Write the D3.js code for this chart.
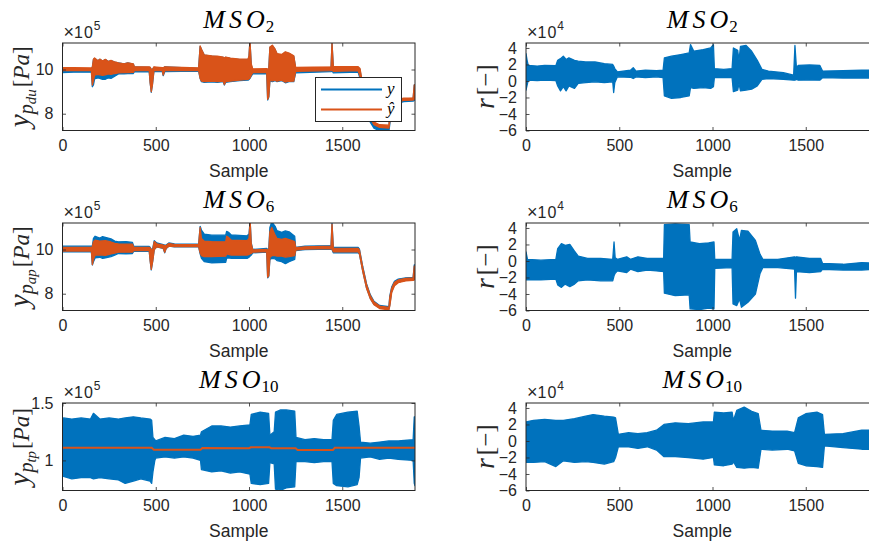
<!DOCTYPE html>
<html>
<head>
<meta charset="utf-8">
<script src="https://cdn.jsdelivr.net/npm/d3@7"></script>
<style>
  body { margin: 0; background: #fff; }
  svg { display: block; font-family: "Liberation Sans", Arial, sans-serif; }
</style>
</head>
<body>
<svg id="chart" width="869" height="542"></svg>
<script>
// ---- shared axis values ----
const sampleDomain = [0, 1890];
const sampleTicks = [0, 500, 1000, 1500];
const pressureTicks = [8, 10];          // x10^5 Pa
const pressureTicksTP = [1, 1.5];       // x10^5 Pa
const residualTicks = [-6, -4, -2, 0, 2, 4]; // x10^4
const pressureDomain = [7.24, 11.2];
const pressureDomainTP = [0.738, 1.5];
const residualDomain = [-6, 4.6];

// ---- signal envelopes: [sample, lower, upper] ----
// MSO2: measured y (x10^5 Pa)
const mso2Y = [
  [0, 9.86, 10.02], [60, 9.88, 10.03], [155, 9.88, 10.03], [160, 9.22, 10.1], [166, 9.3, 10.45],
  [172, 9.58, 10.5], [190, 9.62, 10.4], [200, 9.6, 10.46], [215, 9.55, 10.38], [230, 9.56, 10.45],
  [245, 9.62, 10.36], [260, 9.6, 10.4], [280, 9.7, 10.33], [300, 9.8, 10.3], [330, 9.8, 10.26],
  [350, 9.82, 10.3], [380, 9.82, 10.24], [385, 9.9, 10.12], [465, 9.9, 10.1], [470, 9.4, 10.1],
  [476, 8.97, 10.0], [482, 9.3, 10.0], [490, 9.9, 10.1], [535, 9.92, 10.05], [540, 9.72, 10.05],
  [548, 9.9, 10.12], [730, 9.93, 10.05], [738, 9.6, 11.05], [745, 9.45, 10.9], [760, 9.42, 10.65],
  [800, 9.44, 10.6], [830, 9.42, 10.58], [862, 9.45, 10.55], [868, 9.3, 10.5], [875, 9.42, 10.55],
  [900, 9.45, 10.5], [950, 9.5, 10.45], [995, 9.52, 10.45], [1000, 9.55, 10.6], [1005, 9.6, 11.3],
  [1012, 9.7, 10.2], [1020, 9.8, 9.98], [1095, 9.82, 10.0], [1100, 8.62, 10.0], [1106, 8.75, 10.0],
  [1112, 9.5, 11.0], [1125, 9.45, 11.08], [1140, 9.5, 10.9], [1150, 9.45, 10.7], [1175, 9.5, 10.65],
  [1195, 9.4, 10.78], [1215, 9.45, 10.72], [1240, 9.45, 10.6], [1250, 9.85, 10.05], [1440, 9.9, 10.08],
  [1445, 9.95, 11.2], [1452, 9.85, 10.1], [1585, 9.88, 10.1], [1595, 9.6, 10.0], [1610, 9.0, 9.2],
  [1630, 8.15, 8.35], [1650, 7.62, 7.8], [1670, 7.35, 7.5], [1700, 7.22, 7.38], [1750, 7.2, 7.36],
  [1756, 7.6, 8.1], [1766, 8.2, 8.4], [1785, 8.45, 8.58], [1830, 8.55, 8.66], [1880, 8.57, 8.68],
  [1886, 8.6, 9.3], [1890, 8.8, 9.3]
];
// MSO2: estimated y-hat (x10^5 Pa)
const mso2Yhat = [
  [0, 9.95, 10.08], [60, 9.96, 10.08], [155, 9.95, 10.07], [160, 9.3, 10.1], [166, 9.5, 10.47],
  [172, 9.75, 10.52], [190, 9.78, 10.4], [200, 9.76, 10.47], [215, 9.74, 10.38], [230, 9.76, 10.46],
  [245, 9.8, 10.36], [260, 9.78, 10.41], [280, 9.82, 10.34], [300, 9.85, 10.3], [330, 9.86, 10.26],
  [350, 9.86, 10.3], [380, 9.87, 10.25], [385, 9.95, 10.13], [465, 9.95, 10.12], [470, 9.4, 10.1],
  [476, 9.0, 10.0], [482, 9.3, 10.0], [490, 9.95, 10.12], [535, 9.95, 10.08], [540, 9.75, 10.08],
  [548, 9.95, 10.12], [730, 9.96, 10.07], [738, 9.6, 11.07], [745, 9.48, 10.92], [760, 9.45, 10.66],
  [800, 9.47, 10.62], [830, 9.45, 10.6], [862, 9.48, 10.56], [868, 9.32, 10.52], [875, 9.45, 10.56],
  [900, 9.48, 10.52], [950, 9.52, 10.47], [995, 9.55, 10.47], [1000, 9.58, 10.62], [1005, 9.62, 11.3],
  [1012, 9.75, 10.25], [1020, 9.86, 10.03], [1095, 9.87, 10.04], [1100, 8.65, 10.02], [1106, 8.78, 10.02],
  [1112, 9.52, 11.02], [1125, 9.48, 11.1], [1140, 9.52, 10.92], [1150, 9.47, 10.72], [1175, 9.52, 10.68],
  [1195, 9.43, 10.8], [1215, 9.47, 10.74], [1240, 9.48, 10.62], [1250, 9.92, 10.1], [1440, 9.95, 10.12],
  [1445, 9.98, 11.2], [1452, 9.92, 10.13], [1585, 9.95, 10.13], [1595, 9.7, 10.05], [1610, 9.1, 9.3],
  [1630, 8.3, 8.5], [1650, 7.8, 7.95], [1670, 7.5, 7.62], [1700, 7.38, 7.5], [1750, 7.35, 7.48],
  [1756, 7.7, 8.2], [1766, 8.28, 8.45], [1785, 8.5, 8.62], [1830, 8.6, 8.7], [1880, 8.62, 8.72],
  [1886, 8.65, 9.3], [1890, 8.85, 9.3]
];
// MSO6: measured y (x10^5 Pa)
const mso6Y = [
  [0, 9.9, 10.15], [155, 9.9, 10.15], [160, 9.3, 10.15], [166, 9.45, 10.5], [175, 9.62, 10.6],
  [200, 9.65, 10.52], [215, 9.6, 10.58], [230, 9.62, 10.55], [260, 9.68, 10.48], [280, 9.75, 10.38],
  [300, 9.82, 10.35], [340, 9.8, 10.36], [375, 9.82, 10.32], [382, 9.92, 10.15], [465, 9.92, 10.14],
  [470, 9.5, 10.1], [476, 9.08, 10.0], [484, 9.5, 10.05], [492, 10.0, 10.4], [505, 10.12, 10.3],
  [540, 10.05, 10.22], [548, 9.85, 10.2], [556, 10.05, 10.2], [570, 10.15, 10.3], [600, 10.12, 10.25],
  [730, 10.12, 10.24], [738, 9.8, 11.05], [745, 9.6, 10.88], [760, 9.45, 10.7], [800, 9.4, 10.65],
  [875, 9.42, 10.65], [880, 9.6, 10.82], [890, 9.62, 10.78], [905, 9.6, 10.66], [990, 9.6, 10.62],
  [1000, 9.65, 10.7], [1006, 9.7, 11.3], [1012, 9.75, 10.3], [1020, 9.85, 10.0], [1095, 9.88, 10.05],
  [1100, 8.72, 10.0], [1106, 8.8, 10.0], [1112, 9.55, 11.0], [1122, 9.6, 11.25], [1140, 9.58, 11.05],
  [1150, 9.5, 10.85], [1175, 9.45, 10.78], [1195, 9.36, 10.84], [1215, 9.45, 10.8], [1245, 9.55, 10.6],
  [1250, 9.95, 10.1], [1300, 10.0, 10.15], [1440, 10.02, 10.18], [1445, 10.0, 11.2], [1452, 9.85, 10.1],
  [1585, 9.85, 10.1], [1592, 9.8, 10.02], [1610, 9.02, 9.22], [1630, 8.27, 8.45], [1650, 7.8, 7.96],
  [1670, 7.52, 7.66], [1700, 7.36, 7.47], [1750, 7.3, 7.41], [1755, 7.5, 7.9], [1765, 8.1, 8.3],
  [1780, 8.4, 8.56], [1800, 8.52, 8.66], [1840, 8.6, 8.72], [1880, 8.62, 8.74], [1886, 8.65, 9.3],
  [1890, 8.9, 9.3]
];
// MSO6: estimated y-hat (x10^5 Pa)
const mso6Yhat = [
  [0, 9.93, 10.1], [155, 9.93, 10.1], [160, 9.32, 10.12], [166, 9.55, 10.35], [175, 9.75, 10.42],
  [200, 9.76, 10.38], [230, 9.74, 10.4], [260, 9.8, 10.34], [280, 9.84, 10.28], [300, 9.88, 10.25],
  [375, 9.88, 10.24], [382, 9.95, 10.1], [465, 9.95, 10.1], [470, 9.5, 10.08], [476, 9.1, 9.98],
  [484, 9.5, 10.02], [492, 10.0, 10.36], [505, 10.12, 10.26], [540, 10.06, 10.2], [548, 9.87, 10.18],
  [556, 10.06, 10.18], [570, 10.15, 10.27], [600, 10.13, 10.23], [730, 10.13, 10.22], [738, 9.85, 11.0],
  [745, 9.72, 10.5], [760, 9.68, 10.38], [800, 9.68, 10.36], [875, 9.7, 10.35], [880, 9.8, 10.6],
  [890, 9.78, 10.55], [905, 9.75, 10.42], [990, 9.75, 10.4], [1000, 9.78, 10.5], [1006, 9.8, 11.3],
  [1012, 9.82, 10.25], [1020, 9.88, 9.98], [1095, 9.9, 10.0], [1100, 8.75, 9.98], [1106, 8.82, 9.98],
  [1112, 9.65, 10.8], [1122, 9.72, 11.0], [1140, 9.72, 10.65], [1150, 9.7, 10.5], [1175, 9.7, 10.46],
  [1195, 9.66, 10.5], [1215, 9.68, 10.45], [1245, 9.72, 10.36], [1250, 9.97, 10.08], [1300, 10.02, 10.12],
  [1440, 10.04, 10.15], [1445, 10.02, 11.15], [1452, 9.9, 10.06], [1585, 9.9, 10.05], [1592, 9.8, 9.98],
  [1610, 9.0, 9.18], [1630, 8.25, 8.42], [1650, 7.78, 7.92], [1670, 7.5, 7.62], [1700, 7.33, 7.44],
  [1750, 7.27, 7.38], [1755, 7.45, 7.85], [1765, 8.05, 8.25], [1780, 8.36, 8.52], [1800, 8.5, 8.62],
  [1840, 8.58, 8.69], [1880, 8.6, 8.71], [1886, 8.62, 9.25], [1890, 8.85, 9.25]
];
// MSO10: measured y (x10^5 Pa)
const mso10Y = [
  [0, 0.9, 1.35], [5, 0.86, 1.37], [50, 0.84, 1.36], [100, 0.85, 1.37], [150, 0.85, 1.36],
  [166, 0.84, 1.41], [200, 0.85, 1.36], [250, 0.84, 1.37], [300, 0.83, 1.36], [336, 0.8, 1.37],
  [380, 0.82, 1.38], [420, 0.84, 1.37], [470, 0.82, 1.36], [478, 0.8, 1.35], [485, 0.9, 1.2],
  [495, 1.0, 1.18], [500, 1.02, 1.17], [550, 1.03, 1.2], [600, 1.02, 1.19], [650, 1.03, 1.22],
  [700, 1.02, 1.21], [740, 1.0, 1.22], [745, 0.92, 1.25], [800, 0.9, 1.3], [850, 0.91, 1.3],
  [900, 0.89, 1.29], [950, 0.9, 1.3], [1005, 0.88, 1.31], [1012, 0.8, 1.4], [1060, 0.79, 1.42],
  [1105, 0.8, 1.41], [1112, 0.98, 1.22], [1135, 0.97, 1.25], [1142, 0.75, 1.42], [1170, 0.74, 1.44],
  [1200, 0.76, 1.44], [1245, 0.77, 1.43], [1252, 0.99, 1.2], [1300, 0.99, 1.18], [1350, 0.98, 1.19],
  [1400, 0.99, 1.18], [1445, 0.99, 1.18], [1452, 0.8, 1.35], [1470, 0.78, 1.4], [1530, 0.77, 1.42],
  [1580, 0.79, 1.43], [1590, 0.85, 1.3], [1598, 1.02, 1.16], [1650, 1.03, 1.15], [1700, 1.01, 1.16],
  [1750, 1.02, 1.17], [1800, 1.01, 1.17], [1880, 1.0, 1.18], [1886, 0.8, 1.38], [1890, 0.78, 1.38]
];
// MSO10: estimated y-hat (x10^5 Pa), single trace [sample, value]
const mso10Yhat = [
  [0, 1.11], [478, 1.11], [490, 1.093], [740, 1.093], [750, 1.108], [1000, 1.106], [1010, 1.114],
  [1110, 1.114], [1120, 1.105], [1250, 1.105], [1260, 1.091], [1450, 1.091], [1460, 1.11], [1890, 1.11]
];
// residuals r (x10^4)
const mso2R = [
  [0, -1.1, 3.3], [6, -0.5, 2.5], [12, 0.1, 1.9], [60, 0.05, 1.8], [100, 0.1, 1.9], [160, 0.05, 1.85],
  [170, -0.6, 2.5], [185, -1.2, 2.7], [200, -0.7, 3.0], [215, -1.2, 2.6], [230, -0.6, 2.8],
  [260, -0.9, 2.5], [280, -0.3, 2.4], [320, -0.2, 2.3], [370, -0.1, 2.3], [420, -0.2, 2.1],
  [465, -0.1, 2.0], [470, -1.4, 1.8], [476, -0.2, 1.5], [490, 0.5, 1.1], [560, 0.45, 1.3],
  [575, 0.3, 1.6], [590, 0.5, 1.2], [640, 0.4, 1.3], [700, 0.5, 1.25], [735, 0.4, 1.3],
  [742, -1.8, 2.8], [780, -2.1, 3.0], [830, -2.0, 3.2], [875, -1.8, 3.4], [882, -0.8, 4.4],
  [900, -0.9, 3.6], [950, -0.8, 3.8], [990, -0.9, 4.0], [1005, -0.7, 4.4], [1010, 0.4, 1.5],
  [1060, 0.45, 1.4], [1105, 0.4, 1.5], [1112, -1.3, 4.0], [1135, -1.1, 3.7], [1142, -0.3, 2.5],
  [1150, -1.2, 4.2], [1180, -1.1, 4.3], [1210, -1.0, 3.6], [1240, -0.6, 2.5], [1265, 0.2, 1.4],
  [1300, 0.3, 1.2], [1380, 0.2, 1.0], [1435, 0.1, 0.7], [1442, 0.1, 4.3], [1450, 0.2, 1.6],
  [1460, 0.1, 1.9], [1520, 0.15, 1.95], [1575, 0.1, 1.9], [1590, 0.4, 1.2], [1700, 0.35, 1.25],
  [1800, 0.35, 1.3], [1890, 0.35, 1.3]
];
const mso6R = [
  [0, -2.3, 1.1], [8, -2.3, 0.2], [80, -2.3, 0.1], [160, -2.2, 0.2], [170, -2.9, 1.5],
  [190, -3.2, 2.1], [210, -2.8, 1.9], [235, -3.1, 2.0], [260, -2.8, 1.2], [280, -2.4, 0.6],
  [330, -2.3, 0.3], [400, -2.4, 0.3], [465, -2.4, 0.2], [472, -1.8, 2.3], [478, -1.5, 0.4],
  [490, -1.2, 0.2], [540, -1.4, 0.5], [560, -1.0, 0.2], [600, -1.3, 0.5], [650, -1.1, 0.3],
  [700, -1.2, 0.3], [738, -1.3, 0.3], [742, -3.9, 4.4], [800, -4.2, 4.5], [875, -4.1, 4.4],
  [880, -5.8, 2.3], [930, -5.9, 2.1], [980, -5.7, 2.2], [1008, -5.8, 2.3], [1012, -0.9, 0.2],
  [1105, -0.8, 0.2], [1110, -5.2, 3.5], [1130, -5.4, 3.9], [1145, -4.6, 2.5], [1155, -5.6, 3.7],
  [1190, -5.0, 3.6], [1230, -4.0, 2.5], [1255, -1.5, 0.8], [1270, -0.8, 0.2], [1350, -0.8, 0.2],
  [1440, -1.0, 0.5], [1445, -4.5, 0.4], [1450, -1.3, 0.5], [1520, -1.4, 0.3], [1580, -1.3, 0.3],
  [1590, -1.0, -0.3], [1700, -1.1, -0.4], [1800, -1.1, -0.2], [1890, -1.0, -0.3]
];
const mso10R = [
  [0, -2.6, 2.3], [40, -2.6, 2.5], [100, -2.5, 2.6], [160, -3.1, 2.5], [200, -2.4, 2.5],
  [260, -2.6, 2.7], [320, -2.5, 3.0], [360, -2.6, 3.2], [420, -2.8, 3.0], [470, -2.5, 2.9],
  [480, -2.0, 2.8], [495, -0.7, 0.8], [550, -0.7, 1.0], [600, -0.9, 0.9], [650, -0.7, 1.0],
  [700, -1.1, 1.3], [740, -1.9, 2.0], [800, -1.9, 2.2], [870, -2.0, 2.1], [950, -2.2, 2.3],
  [1005, -2.0, 2.3], [1010, -2.9, 3.5], [1060, -3.0, 3.4], [1105, -2.8, 3.5], [1112, -2.5, 2.5],
  [1130, -3.2, 3.7], [1170, -3.3, 4.1], [1210, -3.2, 3.6], [1245, -3.3, 3.3], [1260, -1.0, 1.3],
  [1320, -1.1, 1.2], [1400, -1.0, 1.2], [1440, -1.2, 1.0], [1460, -2.7, 2.8], [1500, -3.0, 3.3],
  [1560, -3.1, 3.5], [1590, -3.2, 3.2], [1600, -0.6, 0.8], [1700, -0.8, 0.9], [1750, -0.9, 1.1],
  [1800, -1.0, 1.3], [1890, -1.0, 1.3]
];

const titleSubs = ["2", "6", "10"];
const pressureSubs = ["du", "ap", "tp"];
const legendLabels = ["y", "ŷ"];

// ---- styling ----
const BLUE = "#0072BD", ORANGE = "#D95319", INK = "#262626";
const SERIF = "'Liberation Serif', 'Times New Roman', serif";

const svg = d3.select("#chart");
const leftX = 62.5, rightX = 526, plotW = 352.5, plotH = 87.5;
const rowTops = [43, 223, 403];

let clipId = 0;

function drawPanel(o) {
  const g = svg.append("g");
  const x = d3.scaleLinear().domain(sampleDomain).range([o.left, o.left + plotW]);
  const y = d3.scaleLinear().domain(o.yDomain).range([o.top + plotH, o.top]);

  const cid = "clip" + (clipId++);
  svg.append("clipPath").attr("id", cid).append("rect")
    .attr("x", o.left).attr("y", o.top).attr("width", plotW).attr("height", plotH);

  const data = g.append("g").attr("clip-path", `url(#${cid})`);
  const area = d3.area().x(d => x(d[0])).y0(d => y(d[1])).y1(d => y(d[2]));
  o.bands.forEach(b => {
    data.append("path").attr("d", area(b.values))
      .attr("fill", b.color).attr("stroke", b.color)
      .attr("stroke-width", 1.3).attr("stroke-linejoin", "round");
  });
  (o.lines || []).forEach(l => {
    const line = d3.line().x(d => x(d[0])).y(d => y(d[1]));
    data.append("path").attr("d", line(l.values))
      .attr("fill", "none").attr("stroke", l.color).attr("stroke-width", 2);
  });

  // axes (ticks point inward, mirrored on top/right)
  const xb = d3.axisBottom(x).tickValues(sampleTicks).tickSizeInner(-3.5).tickSizeOuter(0).tickPadding(9)
    .tickFormat(d3.format("d"));
  const xt = d3.axisTop(x).tickValues(sampleTicks).tickSizeInner(-3.5).tickSizeOuter(0).tickFormat("");
  const yl = d3.axisLeft(y).tickValues(o.yTicks).tickSizeInner(-3.5).tickSizeOuter(0).tickPadding(9)
    .tickFormat(d3.format("~g"));
  const yr = d3.axisRight(y).tickValues(o.yTicks).tickSizeInner(-3.5).tickSizeOuter(0).tickFormat("");

  const axes = [
    [xb, `translate(0,${o.top + plotH})`],
    [xt, `translate(0,${o.top})`],
    [yl, `translate(${o.left},0)`],
    [yr, `translate(${o.left + plotW},0)`]
  ];
  axes.forEach(([ax, tr]) => {
    const a = g.append("g").attr("transform", tr).call(ax);
    a.select(".domain").remove();
    a.selectAll("line").attr("stroke", INK).attr("stroke-width", 0.8);
    a.selectAll("text").attr("fill", INK).attr("font-size", 16)
      .attr("font-family", "'Liberation Sans', Arial, sans-serif");
  });
  g.append("rect").attr("x", o.left).attr("y", o.top).attr("width", plotW).attr("height", plotH)
    .attr("fill", "none").attr("stroke", INK).attr("stroke-width", 1);

  // exponent marker
  const ex = g.append("text").attr("x", o.left + 1).attr("y", o.top - 5)
    .attr("fill", INK).attr("font-size", 16);
  ex.append("tspan").attr("font-size", 18).text("×");
  ex.append("tspan").attr("letter-spacing", 1).text("10");
  ex.append("tspan").attr("font-size", 12).attr("dy", -8).text(o.exponent);

  // x label
  g.append("text").attr("x", o.left + plotW / 2).attr("y", o.top + plotH + 46.5)
    .attr("text-anchor", "middle").attr("fill", INK).attr("font-size", 17.5).text("Sample");

  // title: MSO_k
  const t = g.append("text").attr("x", o.left + plotW / 2).attr("y", o.top - 15.5)
    .attr("text-anchor", "middle").attr("fill", "#000").attr("font-family", SERIF);
  t.append("tspan").attr("font-style", "italic").attr("font-size", 26)
    .attr("letter-spacing", 4).text("MS");
  t.append("tspan").attr("font-style", "italic").attr("font-size", 26).text("O");
  t.append("tspan").attr("font-size", 17).attr("dx", 1).attr("dy", 4).text(o.titleSub);

  // y label
  const cy = o.top + plotH / 2;
  const lab = g.append("text")
    .attr("transform", `translate(${o.labelX},${cy}) rotate(-90)`)
    .attr("text-anchor", "middle").attr("fill", INK).attr("font-family", SERIF).attr("font-size", 23);
  o.ylabel(lab);
}

function pressureLabel(sub) {
  return lab => {
    lab.append("tspan").attr("font-style", "italic").attr("font-size", 29).text("y");
    lab.append("tspan").attr("font-style", "italic").attr("font-size", 20).attr("dy", 4).text("p");
    lab.append("tspan").attr("font-style", "italic").attr("font-size", 15).attr("dy", 3).text(sub);
    lab.append("tspan").attr("dy", -7).attr("dx", 2).text("[");
    lab.append("tspan").attr("font-style", "italic").text("Pa");
    lab.append("tspan").text("]");
  };
}
function residualLabel(lab) {
  lab.append("tspan").attr("font-style", "italic").attr("font-size", 28).text("r");
  lab.append("tspan").attr("dx", 3).attr("font-size", 25).text("[");
  lab.append("tspan").attr("font-size", 25).text("\u2212");
  lab.append("tspan").attr("font-size", 25).text("]");
}

const pressureData = [
  { bands: [{ values: mso2Y, color: BLUE }, { values: mso2Yhat, color: ORANGE }], domain: pressureDomain, ticks: pressureTicks },
  { bands: [{ values: mso6Y, color: BLUE }, { values: mso6Yhat, color: ORANGE }], domain: pressureDomain, ticks: pressureTicks },
  { bands: [{ values: mso10Y, color: BLUE }], lines: [{ values: mso10Yhat, color: ORANGE }], domain: pressureDomainTP, ticks: pressureTicksTP }
];
const residualData = [mso2R, mso6R, mso10R];

rowTops.forEach((top, i) => {
  const p = pressureData[i];
  drawPanel({
    left: leftX, top, yDomain: p.domain, yTicks: p.ticks, exponent: "5",
    titleSub: titleSubs[i], bands: p.bands, lines: p.lines, labelX: 29,
    ylabel: pressureLabel(pressureSubs[i])
  });
  drawPanel({
    left: rightX, top, yDomain: residualDomain, yTicks: residualTicks, exponent: "4",
    titleSub: titleSubs[i], bands: [{ values: residualData[i], color: BLUE }], labelX: 494,
    ylabel: residualLabel
  });
});

// legend in the first pressure panel
const lg = svg.append("g");
lg.append("rect").attr("x", 315.5).attr("y", 77.5).attr("width", 86).attr("height", 44)
  .attr("fill", "#fff").attr("stroke", INK).attr("stroke-width", 1);
[BLUE, ORANGE].forEach((c, i) => {
  const yy = 89.5 + i * 20;
  lg.append("line").attr("x1", 321).attr("x2", 382).attr("y1", yy).attr("y2", yy)
    .attr("stroke", c).attr("stroke-width", 2);
  lg.append("text").attr("x", 387).attr("y", yy + 4).attr("font-family", SERIF)
    .attr("font-style", "italic").attr("font-size", 17).attr("fill", "#000").text(legendLabels[i]);
});
</script>
</body>
</html>
